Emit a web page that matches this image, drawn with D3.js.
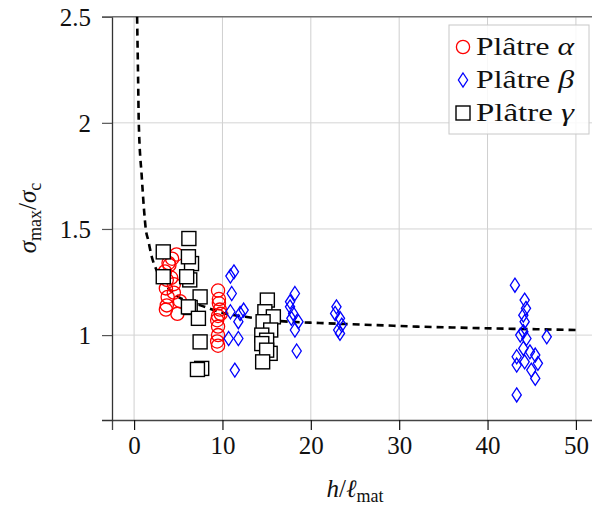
<!DOCTYPE html>
<html><head><meta charset="utf-8">
<script src="https://cdn.jsdelivr.net/npm/d3@7"></script>
<style>body{margin:0;background:#fff}svg{display:block}</style>
</head><body>
<script>
// ---- data ----
const xTicks = [0, 10, 20, 30, 40, 50];
const yTicks = [1, 1.5, 2, 2.5];
const yTickLabels = ["1", "1.5", "2", "2.5"];
const seriesNames = ["Plâtre α", "Plâtre β", "Plâtre γ"];
const seriesLatin = ["Plâtre ", "Plâtre ", "Plâtre "];
const seriesGreek = ["α", "β", "γ"];

const alphaX = [3.5,3.7,3.6,3.8,3.7,3.6,4.0,4.3,4.8,4.5,4.5,4.9,5.2,4.2,3.9,
                9.5,9.6,9.6,9.7,9.5,9.4,9.5,9.5,9.4,9.5,9.8];
const alphaY = [1.30,1.26,1.22,1.18,1.14,1.12,1.33,1.36,1.38,1.24,1.20,1.10,1.16,1.27,1.34,
                1.21,1.17,1.15,1.12,1.09,1.07,1.04,1.00,0.97,0.95,1.10];

const betaX = [11.3,10.9,11.05,10.9,12.4,12.0,11.8,10.7,11.8,11.4,
               18.2,17.65,18.0,18.6,17.8,18.2,18.4,17.65,
               22.9,22.75,23.3,23.5,23.1,23.3,
               43.1,44.2,44.35,44.05,44.2,44.05,43.7,46.7,44.4,44.05,43.3,44.8,45.4,45.7,43.3,44.2,44.95,45.4,43.3];
const betaY = [1.298,1.278,1.196,1.11,1.118,1.102,1.063,0.984,0.984,0.835,
               1.196,1.157,1.102,1.063,1.079,1.024,0.925,1.133,
               1.133,1.102,1.079,1.047,1.024,1.008,
               1.235,1.165,1.126,1.094,1.063,1.016,1.0,0.992,0.984,0.937,0.898,0.921,0.906,0.867,0.859,0.874,0.835,0.796,0.718];

const gammaX = [6.5,6.3,3.3,6.2,6.15,3.3,5.95,7.47,6.35,6.15,7.28,7.47,7.65,7.17,
                15.08,14.8,15.76,14.6,15.46,14.45,15.0,15.4,14.45,15.0,14.55];
const gammaY = [1.337,1.26,1.392,1.455,1.369,1.275,1.275,1.18,1.13,1.133,1.079,0.968,0.843,0.838,
                1.165,1.11,1.086,1.063,1.024,1.0,0.976,0.914,0.96,0.929,0.874];

const curveX = [0.34,0.45,0.53,0.87,1.13,1.32,1.6,2.0,2.5,3,4,5,6,7.5,10,12.6,15,17.6,21,24,27.5,32,36,41,45,50];
const curveY = [2.5,2.22,2.0,1.745,1.588,1.5,1.447,1.369,1.31,1.27,1.215,1.18,1.16,1.14,1.105,1.086,1.072,1.063,1.057,1.052,1.047,1.04,1.036,1.031,1.028,1.024];

// ---- drawing ----
const W = 592, H = 507;
const FONT = "'Liberation Serif', serif";
const svg = d3.select("body").append("svg").attr("width", W).attr("height", H)
  .style("font-family", FONT);

const x = d3.scaleLinear().domain([-2.5, 52.5]).range([112, 598]);
const y = d3.scaleLinear().domain([0.6, 2.5]).range([420, 16.7]);

// grid
svg.append("g").selectAll("line").data(xTicks).join("line")
  .attr("x1", d => x(d)).attr("x2", d => x(d)).attr("y1", y(2.5)).attr("y2", y(0.6))
  .attr("stroke", "#cfcfcf").attr("stroke-width", 1);
svg.append("g").selectAll("line").data(yTicks).join("line")
  .attr("x1", x(-2.5)).attr("x2", x(52.5)).attr("y1", d => y(d)).attr("y2", d => y(d))
  .attr("stroke", "#d4d4d4").attr("stroke-width", 1);

// axes
const xAxis = d3.axisBottom(x).tickValues(xTicks).tickSize(10).tickPadding(6).tickFormat(d3.format("d"));
const gx = svg.append("g").attr("transform", `translate(0,${y(0.6)})`).call(xAxis)
  .attr("font-family", FONT);
gx.select(".domain").attr("stroke", "#444").attr("stroke-width", 1.3);
gx.selectAll(".tick line").attr("stroke", "#111").attr("stroke-width", 1.2);
gx.selectAll(".tick text").attr("font-size", 25).attr("fill", "#111")
  .attr("font-family", FONT).attr("dy", "0.72em");

const yAxis = d3.axisLeft(y).tickValues(yTicks).tickSize(10).tickPadding(11)
  .tickFormat((d, i) => yTickLabels[i]);
const gy = svg.append("g").attr("transform", `translate(${x(-2.5)},0)`).call(yAxis)
  .attr("font-family", FONT);
gy.select(".domain").attr("stroke", "#333").attr("stroke-width", 1.3);
gy.selectAll(".tick line").attr("stroke", "#555").attr("stroke-width", 1.2);
gy.selectAll(".tick text").attr("font-size", 25).attr("fill", "#111")
  .attr("font-family", FONT).attr("dy", "0.34em");

// top border
svg.append("line").attr("x1", x(-2.5)).attr("x2", x(52.5)).attr("y1", y(2.5)).attr("y2", y(2.5))
  .attr("stroke", "#707070").attr("stroke-width", 1.4);

// dashed model curve
const pts = curveX.map((v, i) => [v, curveY[i]]);
svg.append("path").datum(pts)
  .attr("d", d3.line().x(d => x(d[0])).y(d => y(d[1])).curve(d3.curveMonotoneX))
  .attr("fill", "none").attr("stroke", "#000").attr("stroke-width", 2.6)
  .attr("stroke-dasharray", "7,5");

// markers
const alpha = alphaX.map((v, i) => [v, alphaY[i]]);
const beta = betaX.map((v, i) => [v, betaY[i]]);
const gamma = gammaX.map((v, i) => [v, gammaY[i]]);

svg.append("g").selectAll("circle").data(alpha).join("circle")
  .attr("cx", d => x(d[0])).attr("cy", d => y(d[1])).attr("r", 6.6)
  .attr("fill", "none").attr("stroke", "#ff0000").attr("stroke-width", 1.3);

const diamond = (cx, cy) => `M${cx},${cy-7} L${cx+4.6},${cy} L${cx},${cy+7} L${cx-4.6},${cy} Z`;
svg.append("g").selectAll("path").data(beta).join("path")
  .attr("d", d => diamond(x(d[0]), y(d[1])))
  .attr("fill", "none").attr("stroke", "#0000ff").attr("stroke-width", 1.3);

svg.append("g").selectAll("rect").data(gamma).join("rect")
  .attr("x", d => x(d[0]) - 7).attr("y", d => y(d[1]) - 7).attr("width", 14).attr("height", 14)
  .attr("fill", "#fff").attr("stroke", "#000").attr("stroke-width", 1.4);

// legend
const lg = svg.append("g");
lg.append("rect").attr("x", 449).attr("y", 25).attr("width", 140).attr("height", 109)
  .attr("fill", "#fff").attr("fill-opacity", 0.85).attr("stroke", "#c8c8c8").attr("stroke-width", 1);
const rowY = [47, 80, 113];
lg.append("circle").attr("cx", 463).attr("cy", rowY[0]).attr("r", 6.6)
  .attr("fill", "none").attr("stroke", "#ff0000").attr("stroke-width", 1.3);
lg.append("path").attr("d", diamond(463, rowY[1]))
  .attr("fill", "none").attr("stroke", "#0000ff").attr("stroke-width", 1.3);
lg.append("rect").attr("x", 456).attr("y", rowY[2] - 7).attr("width", 14).attr("height", 14)
  .attr("fill", "#fff").attr("stroke", "#000").attr("stroke-width", 1.4);
seriesNames.forEach((n, i) => {
  const t = lg.append("text").attr("x", 476).attr("y", rowY[i] + 7.5)
    .attr("font-size", 25).attr("fill", "#111");
  t.append("tspan").text(seriesLatin[i]);
  t.append("tspan").attr("font-style", "italic").text(seriesGreek[i]);
  t.attr("textLength", 98).attr("lengthAdjust", "spacingAndGlyphs");
});

// axis labels
const xl = svg.append("text").attr("x", 355).attr("y", 497).attr("text-anchor", "middle")
  .attr("font-size", 25).attr("fill", "#111");
xl.append("tspan").attr("font-style", "italic").text("h");
xl.append("tspan").text("/");
xl.append("tspan").attr("font-style", "italic").text("ℓ");
xl.append("tspan").attr("font-size", 18).attr("dy", 5).text("mat");

const yl = svg.append("text").attr("transform", "translate(36,218) rotate(-90)")
  .attr("text-anchor", "middle").attr("font-size", 25).attr("fill", "#111");
yl.append("tspan").attr("font-style", "italic").text("σ");
yl.append("tspan").attr("font-size", 18).attr("dy", 5).text("max");
yl.append("tspan").attr("dy", -5).text("/");
yl.append("tspan").attr("font-style", "italic").text("σ");
yl.append("tspan").attr("font-size", 18).attr("dy", 5).text("c");
</script>
</body></html>
